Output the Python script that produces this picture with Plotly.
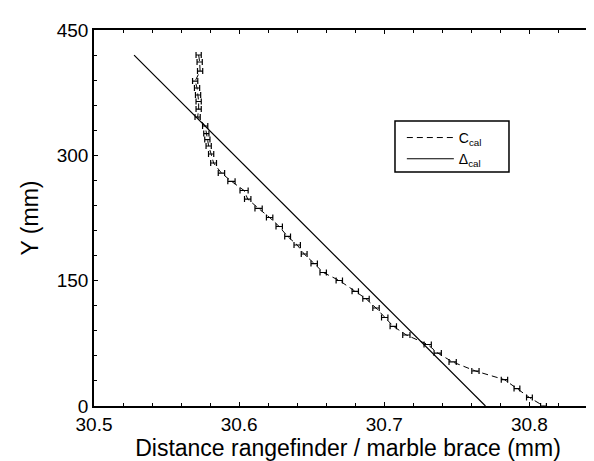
import plotly.graph_objects as go

# C_cal measured points (distance, Y) with horizontal error bars
c_x = [30.5721, 30.5728, 30.5731, 30.5697, 30.5710, 30.5717, 30.5721, 30.5721, 30.5714,
       30.5766, 30.5774, 30.5781, 30.5790, 30.5807, 30.5824, 30.5878, 30.5947, 30.6034,
       30.6059, 30.6134, 30.6210, 30.6276, 30.6334, 30.6400, 30.6448, 30.6517, 30.6579,
       30.6690, 30.6800, 30.6874, 30.6943, 30.7003, 30.7062, 30.7152, 30.7299, 30.7368,
       30.7471, 30.7628, 30.7828, 30.7914, 30.8000, 30.8097]
c_y = [420.1, 411.7, 400.9, 388.9, 380.6, 372.2, 364.4, 355.4, 345.9,
       335.1, 326.1, 318.9, 311.2, 301.6, 290.8, 278.8, 268.9, 257.9,
       247.7, 236.4, 225.6, 214.8, 202.9, 192.7, 181.9, 170.5, 159.8,
       150.2, 137.3, 128.4, 117.3, 105.9, 95.4, 85.0, 73.6, 63.4,
       52.7, 41.9, 31.5, 20.9, 10.2, 0.0]
c_err = [0.0018, 0.0018, 0.0018, 0.0018, 0.0018, 0.0018, 0.0018, 0.0018, 0.0018,
         0.0018, 0.0018, 0.0018, 0.0018, 0.0018, 0.0020, 0.0022, 0.0025, 0.0028,
         0.0022, 0.0025, 0.0022, 0.0022, 0.0020, 0.0022, 0.0020, 0.0022, 0.0022,
         0.0022, 0.0022, 0.0022, 0.0022, 0.0022, 0.0022, 0.0025, 0.0025, 0.0025,
         0.0025, 0.0025, 0.0022, 0.0020, 0.0020, 0.0020]

# Delta_cal straight line (end points)
d_x = [30.5276, 30.7697]
d_y = [420.0, 0.0]

x_ticks = [30.5, 30.6, 30.7, 30.8]
y_ticks = [0, 150, 300, 450]

FONT = "Liberation Sans, Arial, Helvetica, sans-serif"

fig = go.Figure()
fig.add_trace(go.Scatter(
    x=c_x, y=c_y, mode="lines", name="C<sub>cal</sub>",
    line=dict(color="black", width=1, dash="6px,4px"),
    error_x=dict(type="data", array=c_err, visible=True, color="black",
                 thickness=1.2, width=3),
))
fig.add_trace(go.Scatter(
    x=d_x, y=d_y, mode="lines", name="Δ<sub>cal</sub>",
    line=dict(color="black", width=1.2),
))

axis_common = dict(
    showgrid=False, zeroline=False, showline=True, linecolor="black", linewidth=1.5,
    ticks="inside", ticklen=4, tickwidth=1, tickcolor="black", automargin=False,
    tickfont=dict(family=FONT, size=19, color="black"),
)
fig.update_xaxes(
    range=[30.5, 30.85], tickvals=x_ticks, ticktext=[str(v) for v in x_ticks],
    mirror="allticks",
    minor=dict(dtick=0.02, tick0=30.5, ticks="inside", ticklen=3, tickcolor="black"),
    title=dict(text="Distance rangefinder / marble brace (mm)",
               font=dict(family=FONT, size=23, color="black"), standoff=6),
    **axis_common,
)
fig.update_yaxes(
    range=[0, 450], tickvals=y_ticks, ticktext=[str(v) for v in y_ticks],
    mirror=False,
    minor=dict(dtick=30, tick0=0, ticks="inside", ticklen=3, tickcolor="black"),
    title=dict(text="Y (mm)", font=dict(family=FONT, size=23, color="black"), standoff=12),
    **axis_common,
)
# legend frame
fig.add_shape(type="rect", xref="paper", yref="paper",
              x0=0.5925, x1=0.8169, y0=0.6223, y1=0.758,
              line=dict(color="black", width=1.5), fillcolor="white", layer="below")
fig.update_layout(
    width=594, height=461,
    margin=dict(l=86, r=0, t=22, b=63),
    plot_bgcolor="white", paper_bgcolor="white",
    showlegend=True,
    legend=dict(x=0.606, y=0.685, xanchor="left", yanchor="middle",
                borderwidth=0, bgcolor="rgba(0,0,0,0)",
                font=dict(family=FONT, size=14, color="black"),
                tracegroupgap=0, itemwidth=47),
)
fig.write_html("out.html")
